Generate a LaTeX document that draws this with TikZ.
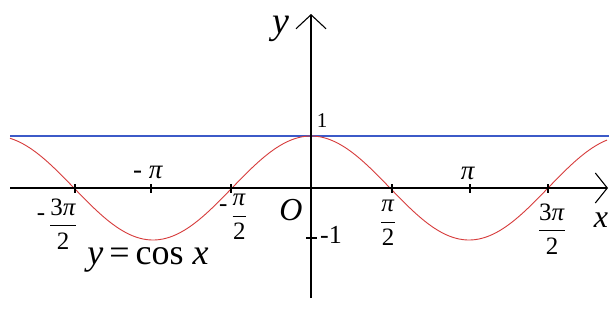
\documentclass[tikz,border=0pt]{standalone}
\usepackage{fontspec}
\usepackage{amsmath}
\setmainfont{Liberation Serif}
\usetikzlibrary{arrows.meta}
\definecolor{curvered}{RGB}{215,60,60}
\definecolor{lineblue}{RGB}{60,90,200}
\newcommand{\fsz}[1]{\fontsize{#1}{#1}\selectfont}
\newcommand{\pig}{\textit{π}}
\newcommand{\myfr}[2]{$\dfrac{\text{#1}}{\text{#2}}$}
\newcommand{\mns}{\raisebox{0.45em}{-}\,}
\begin{document}
\begin{tikzpicture}[x=1pt,y=-1pt,
  axis/.style={black, line width=1.3pt},
  tick/.style={black, line width=1.1pt},
  lbl/.style={inner sep=0pt, anchor=center}]
\useasboundingbox (0,0) rectangle (609,324);
\fill[white] (0,0) rectangle (609,324);
\coordinate (O) at (311,188);
\coordinate (xs) at (10,188);
\coordinate (xe) at (608,188);
\coordinate (ys) at (311,298);
\coordinate (ye) at (311,14);
\coordinate (b1) at (10,136);
\coordinate (b2) at (609,136);
\draw[lineblue, line width=1.3pt] (b1) -- (b2);
\draw[curvered, line width=0.9pt] plot[domain=10:607, samples=240] (\x, {188-52*cos((\x-311)/79*90)});
\draw[axis, -{Straight Barb[length=12pt,width=30pt,line width=1.1pt]}] (xs) -- (xe);
\draw[axis, -{Straight Barb[length=14pt,width=30pt,line width=1.1pt]}] (ys) -- (ye);
\foreach \t in {75,151,231,392,470,548} \draw[tick] (\t,184) -- (\t,193);
\draw[tick] (306,238) -- (317,238);
% labels
\node[lbl] (ylab) at (281,29) {\fsz{38}\textit{y}};
\node[lbl] (xlab) at (601,220) {\fsz{32}\textit{x}};
\node[lbl] (olab) at (291,210) {\fsz{32}\textit{O}};
\node[lbl] (one) at (322,121) {\fsz{21}1};
\node[lbl] (mone) at (331,235) {\fsz{26}-1};
\node[lbl] (mpi) at (148,172) {\fsz{27}- \pig};
\node[lbl] (ppi) at (468,173) {\fsz{27}\pig};
\node[lbl] (f1) at (57,224) {\fsz{25}\mns\myfr{3\pig}{2}};
\node[lbl] (f2) at (233,217) {\fsz{25}\mns\myfr{\pig}{2}};
\node[lbl] (f3) at (388,223) {\fsz{25}\myfr{\pig}{2}};
\node[lbl] (f4) at (552,229) {\fsz{25}\myfr{3\pig}{2}};
\node[lbl] (eq) at (148,260) {\fsz{36}\textit{y}\,=\,cos \textit{x}};
\end{tikzpicture}
\end{document}
